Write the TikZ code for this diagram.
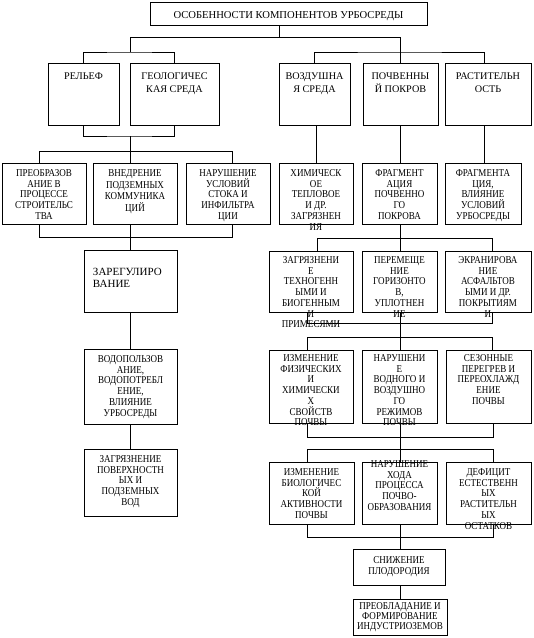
\documentclass[tikz,border=0pt]{standalone}
\usepackage{fontspec}
\setmainfont{Liberation Serif}
\newfontfamily\condf[FakeStretch=0.86]{Liberation Serif}
\newcommand\hdfont{\fontsize{10.2pt}{13pt}\selectfont}
\newcommand\ttlfont{\fontsize{10.6pt}{13pt}\selectfont}
\newcommand\boxfont{\condf\fontsize{10.5pt}{10.7pt}\selectfont}
\tikzset{
  bx/.style={draw, line width=0.8pt, inner sep=0pt, rectangle},
  ln/.style={line width=0.8pt}
}
% name, x1, y1, x2, y2, first-baseline offset, font, text
\newcommand\bxnode[8]{%
  \node[bx] (#1) at ({(#2+#4)/2},{(#3+#5)/2})
  {\parbox[t][\dimexpr#5pt-#3pt\relax][t]{\dimexpr#4pt-#2pt\relax}{#7%
    \hyphenpenalty=10000 \exhyphenpenalty=10000 \lineskiplimit=-20pt
    \vspace*{-20pt}\centering\leftskip=0pt plus 1fil minus 30pt\rightskip=\leftskip
    \rule{0pt}{\dimexpr#6pt+20pt\relax}#8}};}
\begin{document}
\begin{tikzpicture}[x=1pt,y=-1pt]
\path[fill=white, use as bounding box] (0,0) rectangle (534,638);

% top
\bxnode{top}{150}{2}{427}{25}{16.5}{\ttlfont}{ОСОБЕННОСТИ КОМПОНЕНТОВ УРБОСРЕДЫ}
% row 1
\bxnode{rel}{48}{63}{119}{125}{16}{\hdfont}{РЕЛЬЕФ}
\bxnode{geo}{130}{63}{219}{125}{16}{\hdfont}{ГЕОЛОГИЧЕС\\КАЯ~СРЕДА}
\bxnode{air}{279}{63}{350}{125}{16}{\hdfont}{ВОЗДУШНА\\Я~СРЕДА}
\bxnode{soil}{363}{63}{438}{125}{16}{\hdfont}{ПОЧВЕННЫ\\Й~ПОКРОВ}
\bxnode{veg}{445}{63}{531}{125}{16}{\hdfont}{РАСТИТЕЛЬН\\ОСТЬ}
% row 2 left
\bxnode{La}{2}{163}{86}{224}{13.5}{\boxfont}{ПРЕОБРАЗОВ\\АНИЕ~В\\ПРОЦЕССЕ\\СТРОИТЕЛЬС\\ТВА}
\bxnode{Lb}{93}{163}{177}{224}{13.5}{\condf\fontsize{10.5pt}{11.5pt}\selectfont}{ВНЕДРЕНИЕ\\ПОДЗЕМНЫХ\\КОММУНИКА\\ЦИЙ}
\bxnode{Lc}{186}{163}{270}{224}{13.5}{\boxfont}{НАРУШЕНИЕ\\УСЛОВИЙ\\СТОКА~И\\ИНФИЛЬТРА\\ЦИИ}
% row 2 right
\bxnode{Ra}{279}{163}{353}{224}{13.5}{\boxfont}{ХИМИЧЕСК\\ОЕ\\ТЕПЛОВОЕ\\И~ДР.\\ЗАГРЯЗНЕН\\ИЯ}
\bxnode{Rb}{362}{163}{437}{224}{13.5}{\boxfont}{ФРАГМЕНТ\\АЦИЯ\\ПОЧВЕННО\\ГО\\ПОКРОВА}
\bxnode{Rc}{445}{163}{521}{224}{13.5}{\boxfont}{ФРАГМЕНТА\\ЦИЯ,\\ВЛИЯНИЕ\\УСЛОВИЙ\\УРБОСРЕДЫ}
% left column
\bxnode{zar}{84}{250}{177}{312}{25.7}{\fontsize{11pt}{11.5pt}\selectfont}{\leftskip=9pt\rightskip=0pt plus 1fil\relax ЗАРЕГУЛИРО\\ВАНИЕ}
\bxnode{vod}{84}{349}{177}{424}{13.5}{\boxfont}{ВОДОПОЛЬЗОВ\\АНИЕ,\\ВОДОПОТРЕБЛ\\ЕНИЕ,\\ВЛИЯНИЕ\\УРБОСРЕДЫ}
\bxnode{zag}{84}{449}{177}{516}{13.5}{\boxfont}{ЗАГРЯЗНЕНИЕ\\ПОВЕРХНОСТН\\ЫХ~И\\ПОДЗЕМНЫХ\\ВОД}
% row 3
\bxnode{Sa}{269}{251}{353}{312}{12.5}{\boxfont}{ЗАГРЯЗНЕНИ\\Е\\ТЕХНОГЕНН\\ЫМИ~И\\БИОГЕННЫМ\\И\\ПРИМЕСЯМИ}
\bxnode{Sb}{362}{251}{437}{312}{12.5}{\boxfont}{ПЕРЕМЕЩЕ\\НИЕ\\ГОРИЗОНТО\\В,\\УПЛОТНЕН\\ИЕ}
\bxnode{Sc}{445}{251}{531}{312}{12.5}{\boxfont}{ЭКРАНИРОВА\\НИЕ\\АСФАЛЬТОВ\\ЫМИ~И~ДР.\\ПОКРЫТИЯМ\\И}
% row 4
\bxnode{Ta}{269}{350}{353}{423}{11.5}{\boxfont}{ИЗМЕНЕНИЕ\\ФИЗИЧЕСКИХ\\И\\ХИМИЧЕСКИ\\Х\\СВОЙСТВ\\ПОЧВЫ}
\bxnode{Tb}{362}{350}{437}{423}{11.5}{\boxfont}{НАРУШЕНИ\\Е\\ВОДНОГО~И\\ВОЗДУШНО\\ГО\\РЕЖИМОВ\\ПОЧВЫ}
\bxnode{Tc}{446}{350}{531}{423}{11.5}{\boxfont}{СЕЗОННЫЕ\\ПЕРЕГРЕВ~И\\ПЕРЕОХЛАЖД\\ЕНИЕ\\ПОЧВЫ}
% row 5
\bxnode{Ua}{269}{462}{354}{524}{13.5}{\boxfont}{ИЗМЕНЕНИЕ\\БИОЛОГИЧЕС\\КОЙ\\АКТИВНОСТИ\\ПОЧВЫ}
\bxnode{Ub}{362}{462}{437}{524}{5.5}{\boxfont}{НАРУШЕНИЕ\\ХОДА\\ПРОЦЕССА\\ПОЧВО-\\ОБРАЗОВАНИЯ}
\bxnode{Uc}{446}{462}{531}{524}{13.5}{\boxfont}{ДЕФИЦИТ\\ЕСТЕСТВЕНН\\ЫХ\\РАСТИТЕЛЬН\\ЫХ\\ОСТАТКОВ}
% bottom
\bxnode{sn}{353}{549}{445}{585}{14.5}{\condf\fontsize{10.5pt}{11pt}\selectfont}{СНИЖЕНИЕ\\ПЛОДОРОДИЯ}
\bxnode{pr}{353}{599}{447}{635}{10.5}{\condf\fontsize{10.5pt}{10pt}\selectfont}{ПРЕОБЛАДАНИЕ~И\\ФОРМИРОВАНИЕ\\ИНДУСТРИОЗЕМОВ}

% junction coordinates
\coordinate (t0) at (279,37);
\coordinate (tL) at (130,37);
\coordinate (tR) at (400,37);
\coordinate (gL) at (130,52);
\coordinate (gR) at (400,52);
\coordinate (h1) at (130,136);
\coordinate (h2) at (130,151);
\coordinate (h2L) at (39,151);
\coordinate (h2R) at (232,151);
\coordinate (h3L) at (39,237);
\coordinate (h3R) at (232,237);
\coordinate (r1) at (400,238);
\coordinate (r1L) at (317,238);
\coordinate (r1R) at (492,238);
\coordinate (r2L) at (307,323);
\coordinate (r2R) at (492,323);
\coordinate (r3) at (400,337);
\coordinate (r3L) at (307,337);
\coordinate (r3R) at (492,337);
\coordinate (r4L) at (307,437);
\coordinate (r4R) at (493,437);
\coordinate (r5) at (400,449);
\coordinate (r5L) at (307,449);
\coordinate (r5R) at (493,449);
\coordinate (r6L) at (307,537);
\coordinate (r6R) at (493,537);
\coordinate (r6) at (400,537);
\coordinate (xv) at (484,0);

% top level
\draw[ln] (top.south -| t0) -- (t0);
\draw[ln] (tL) -- (tR);
\draw[ln] (tL) -- (gL);
\draw[ln] (tR) -- (gR);
\draw[ln] (rel.north) |- (gL) -| (geo.north);
\draw[ln] (air.north) |- (gR) -| (veg.north -| xv);
\draw[ln] (gR) -- (soil.north -| gR);

% left branch
\draw[ln] (rel.south) |- (h1) -| (geo.south);
\draw[ln] (h1) -- (h2);
\draw[ln] (h2L) -- (h2R);
\draw[ln] (h2L) -- (La.north -| h2L);
\draw[ln] (h2) -- (Lb.north -| h2);
\draw[ln] (h2R) -- (Lc.north -| h2R);
\draw[ln] (La.south -| h3L) |- (h3R) -- (Lc.south -| h3R);
\draw[ln] (Lb.south -| h2) -- (zar.north -| h2);
\draw[ln] (zar.south -| h2) -- (vod.north -| h2);
\draw[ln] (vod.south -| h2) -- (zag.north -| h2);

% right branch
\draw[ln] (air.south -| Ra.north) -- (Ra.north);
\draw[ln] (soil.south -| r1) -- (Rb.north -| r1);
\draw[ln] (veg.south -| xv) -- (Rc.north -| xv);
\draw[ln] (Rb.south -| r1) -- (r1);
\draw[ln] (r1L) -- (r1R);
\draw[ln] (r1L) -- (Sa.north -| r1L);
\draw[ln] (r1) -- (Sb.north -| r1);
\draw[ln] (r1R) -- (Sc.north -| r1R);

\draw[ln] (Sa.south -| r2L) |- (r2R) -- (Sc.south -| r2R);
\draw[ln] (Sb.south -| r3) -- (r3);
\draw[ln] (r3L) -- (r3R);
\draw[ln] (r3L) -- (Ta.north -| r3L);
\draw[ln] (r3) -- (Tb.north -| r3);
\draw[ln] (r3R) -- (Tc.north -| r3R);

\draw[ln] (Ta.south -| r4L) |- (r4R) -- (Tc.south -| r4R);
\draw[ln] (Tb.south -| r5) -- (r5);
\draw[ln] (r5L) -- (r5R);
\draw[ln] (r5L) -- (Ua.north -| r5L);
\draw[ln] (r5) -- (Ub.north -| r5);
\draw[ln] (r5R) -- (Uc.north -| r5R);

\draw[ln] (Ua.south -| r6L) |- (r6R) -- (Uc.south -| r6R);
\draw[ln] (Ub.south -| r6) -- (sn.north -| r6);
\draw[ln] (sn.south -| r6) -- (pr.north -| r6);
\end{tikzpicture}
\end{document}
